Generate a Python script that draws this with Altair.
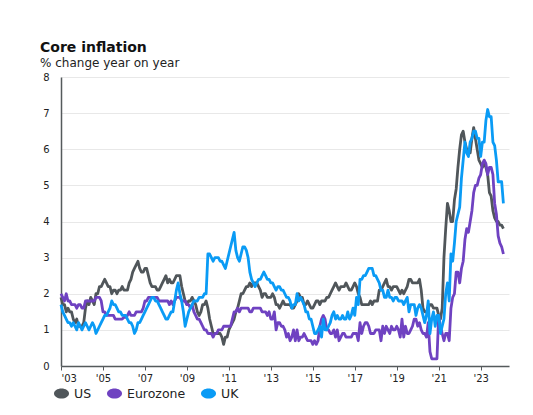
import altair as alt
import pandas as pd

# ---- data (monthly, Jan 2003 - Feb 2024), % change year on year ----
us = [
    1.9, 1.7, 1.7, 1.5, 1.6, 1.5, 1.5, 1.3, 1.2, 1.3, 1.1, 1.1,
    1.1, 1.2, 1.6, 1.8, 1.7, 1.9, 1.8, 1.7, 2.0, 2.0, 2.2, 2.2,
    2.3, 2.4, 2.3, 2.2, 2.2, 2.0, 2.1, 2.1, 2.0, 2.1, 2.1, 2.2,
    2.1, 2.1, 2.1, 2.3, 2.4, 2.6, 2.7, 2.8, 2.9, 2.7, 2.6, 2.6,
    2.7, 2.7, 2.5, 2.3, 2.2, 2.2, 2.2, 2.1, 2.1, 2.2, 2.3, 2.4,
    2.5, 2.3, 2.4, 2.3, 2.3, 2.4, 2.5, 2.5, 2.5, 2.2, 2.0, 1.8,
    1.7, 1.8, 1.8, 1.9, 1.8, 1.7, 1.5, 1.4, 1.5, 1.7, 1.7, 1.8,
    1.6, 1.3, 1.1, 0.9, 0.9, 0.9, 0.9, 0.9, 0.8, 0.6, 0.8, 0.8,
    1.0, 1.1, 1.2, 1.3, 1.5, 1.6, 1.8, 2.0, 2.0, 2.1, 2.2, 2.2,
    2.3, 2.2, 2.3, 2.3, 2.3, 2.2, 2.1, 1.9, 2.0, 2.0, 1.9, 1.9,
    1.9, 2.0, 1.9, 1.7, 1.7, 1.6, 1.7, 1.8, 1.7, 1.7, 1.7, 1.7,
    1.6, 1.6, 1.7, 1.8, 2.0, 1.9, 1.9, 1.7, 1.7, 1.8, 1.7, 1.6,
    1.6, 1.7, 1.8, 1.8, 1.7, 1.8, 1.8, 1.8, 1.9, 1.9, 2.0, 2.1,
    2.2, 2.3, 2.2, 2.1, 2.2, 2.2, 2.2, 2.3, 2.2, 2.1, 2.1, 2.2,
    2.3, 2.2, 2.0, 1.9, 1.7, 1.7, 1.7, 1.7, 1.7, 1.8, 1.7, 1.8,
    1.8, 1.8, 2.1, 2.1, 2.2, 2.3, 2.4, 2.2, 2.2, 2.1, 2.2, 2.2,
    2.2, 2.1, 2.0, 2.1, 2.0, 2.1, 2.2, 2.4, 2.4, 2.3, 2.3, 2.3,
    2.3, 2.4, 2.1, 1.6, 1.5, 1.5, 1.6, 1.7, 1.7, 1.6, 1.6, 1.6,
    1.4, 1.3, 1.6, 3.0, 3.8, 4.5, 4.3, 4.0, 4.0, 4.6, 4.9, 5.5,
    6.0, 6.4, 6.5, 6.2, 6.0, 5.9, 5.9, 6.3, 6.6, 6.3, 6.0, 5.7,
    5.6, 5.5, 5.6, 5.5, 5.3, 4.8, 4.7, 4.3, 4.1, 4.0, 4.0, 3.9,
    3.9, 3.8,
]

eurozone = [
    2.0, 1.9, 1.8, 2.0, 1.8, 1.8, 1.7, 1.7, 1.7, 1.6, 1.7, 1.7,
    1.6, 1.6, 1.8, 1.8, 1.8, 1.8, 1.8, 1.8, 1.9, 1.9, 1.9, 1.8,
    1.5, 1.5, 1.4, 1.4, 1.4, 1.4, 1.4, 1.3, 1.3, 1.3, 1.3, 1.3,
    1.35, 1.35, 1.4, 1.5, 1.4, 1.4, 1.4, 1.5, 1.5, 1.5, 1.5, 1.6,
    1.8, 1.8, 1.9, 1.9, 1.9, 1.9, 1.9, 1.9, 1.8, 1.8, 1.8, 1.8,
    1.8, 1.8, 1.7, 1.8, 1.7, 1.8, 1.9, 1.9, 1.9, 1.8, 1.8, 1.8,
    1.7, 1.7, 1.6, 1.7, 1.5, 1.4, 1.3, 1.3, 1.2, 1.1, 1.0, 1.0,
    0.9, 0.9, 0.9, 0.8, 0.9, 0.9, 1.0, 1.0, 1.0, 1.1, 1.1, 1.1,
    1.1, 1.1, 1.3, 1.5, 1.5, 1.6, 1.5, 1.6, 1.6, 1.6, 1.6, 1.6,
    1.5, 1.5, 1.6, 1.6, 1.6, 1.6, 1.6, 1.5, 1.5, 1.5, 1.4, 1.5,
    1.3, 1.3, 1.5, 1.0, 1.2, 1.2, 1.1, 1.1, 1.0, 0.8, 0.9, 0.7,
    0.8, 1.0, 0.7, 1.0, 0.7, 0.8, 0.8, 0.9, 0.8, 0.7, 0.7, 0.7,
    0.6, 0.7, 0.6, 0.7, 1.1, 1.3, 1.4, 1.3, 1.0, 1.0, 0.9, 0.9,
    1.0, 0.8, 1.0, 0.7, 0.8, 0.9, 0.9, 0.8, 0.8, 0.8, 0.8, 0.9,
    0.9, 0.9, 0.7, 1.2, 0.9, 1.1, 1.2, 1.2, 1.1, 0.9, 0.9, 0.9,
    1.0, 1.0, 1.0, 0.7, 1.1, 0.9, 1.1, 1.0, 0.9, 1.1, 1.0, 1.0,
    1.1, 1.0, 0.8, 1.3, 0.8, 1.1, 0.9, 0.9, 1.0, 1.1, 1.3, 1.3,
    1.1, 1.2, 1.0, 0.9, 0.9, 0.8, 1.2, 0.4, 0.2, 0.2, 0.2, 0.2,
    1.4, 1.1, 0.9, 0.7, 0.9, 0.9, 0.7, 1.6, 1.9, 2.0, 2.6, 2.6,
    2.3, 2.7, 2.9, 3.5, 3.8, 3.7, 4.0, 4.3, 4.8, 5.0, 5.0, 5.2,
    5.3, 5.6, 5.7, 5.6, 5.3, 5.5, 5.5, 5.3, 4.5, 4.2, 3.6, 3.4,
    3.3, 3.1,
]

uk = [
    1.7, 1.5, 1.4, 1.3, 1.2, 1.2, 1.1, 1.2, 1.1, 1.0, 1.2, 1.1,
    1.0, 1.1, 1.2, 1.1, 1.0, 1.1, 1.2, 1.1, 0.9, 1.0, 1.1, 1.2,
    1.3, 1.4, 1.4, 1.5, 1.6, 1.8, 1.7, 1.7, 1.6, 1.5, 1.5, 1.4,
    1.4, 1.4, 1.3, 1.2, 1.2, 1.1, 0.9, 1.0, 1.2, 1.2, 1.3, 1.4,
    1.5, 1.6, 1.7, 1.8, 1.9, 1.9, 1.8, 1.8, 1.7, 1.6, 1.5, 1.4,
    1.3, 1.3, 1.4, 1.5, 1.5, 1.8, 2.1, 2.3, 2.0, 1.8, 1.5, 1.1,
    1.3, 1.5, 1.6, 1.7, 1.8, 1.8, 1.8, 1.9, 1.9, 1.9, 2.0, 2.0,
    3.1, 3.1, 3.0, 2.9, 3.0, 3.0, 3.0, 2.9, 2.9, 2.8, 2.7, 2.9,
    3.1, 3.3, 3.5, 3.7, 3.2, 3.0, 2.9, 3.1, 3.3, 3.3, 3.2, 3.0,
    2.6, 2.4, 2.3, 2.2, 2.3, 2.4, 2.4, 2.5, 2.6, 2.5, 2.4, 2.4,
    2.3, 2.3, 2.2, 2.1, 2.2, 2.2, 2.1, 2.1, 2.0, 1.9, 1.9, 1.8,
    1.6, 1.7, 1.7, 2.0, 1.8, 1.9, 1.8, 1.7, 1.5, 1.5, 1.3, 1.3,
    1.1, 0.9, 0.9, 1.0, 1.1, 0.8, 1.3, 1.0, 1.0, 1.1, 1.2, 1.4,
    1.5, 1.3, 1.4, 1.3, 1.3, 1.4, 1.3, 1.3, 1.5, 1.3, 1.4, 1.6,
    1.4, 1.9, 1.7, 2.4, 2.4, 2.5, 2.5, 2.6, 2.7, 2.7, 2.7, 2.5,
    2.5, 2.4, 2.3, 2.1, 2.1, 1.9, 1.9, 2.1, 1.9, 1.9, 1.8, 1.9,
    1.9, 1.8, 1.8, 1.8, 1.7, 1.8, 1.9, 1.5, 1.7, 1.7, 1.7, 1.4,
    1.6, 1.7, 1.6, 1.4, 1.2, 1.4, 1.8, 0.9, 1.3, 1.5, 1.1, 1.4,
    1.4, 0.9, 1.1, 1.3, 2.0, 2.3, 1.8, 3.1, 2.9, 3.4, 4.0, 4.2,
    4.4, 5.2, 5.7, 6.2, 5.9, 5.8, 6.2, 6.3, 6.5, 6.5, 6.3, 6.3,
    5.8, 6.2, 6.2, 6.8, 7.1, 6.9, 6.9, 6.2, 6.1, 5.7, 5.1, 5.1,
    5.1, 4.5,
]

series_names = ["US", "Eurozone", "UK"]
series_colors = ["#50565a", "#6f42c1", "#0a9bf5"]
start_year = 2003
x_ticks = list(range(2003, 2024, 2))
y_ticks = list(range(0, 9))

rows = []
for name, vals in zip(series_names, [us, eurozone, uk]):
    for i, v in enumerate(vals):
        rows.append({"t": start_year + i / 12, "value": v, "series": name})
df = pd.DataFrame(rows)

FONT = "DejaVu Sans"
ellipse = "M-1,0A1,0.68,0,1,1,1,0A1,0.68,0,1,1,-1,0Z"

color_scale = alt.Scale(domain=series_names, range=series_colors)

x_enc = alt.X(
    "t:Q",
    scale=alt.Scale(domain=[2003, 2024.35], nice=False, zero=False),
    axis=alt.Axis(
        values=x_ticks,
        labelExpr="\"'\" + substring(toString(datum.value), 2, 4)",
        grid=False, title=None,
        domainColor="#555a5c", domainWidth=1.5,
        tickColor="#555a5c", tickSize=4, labelPadding=3,
        labelFont=FONT, labelFontSize=10, labelColor="#222222",
    ),
)
y_enc = alt.Y(
    "value:Q",
    scale=alt.Scale(domain=[0, 8], nice=False),
    axis=alt.Axis(
        values=y_ticks, title=None, ticks=False, labelPadding=12,
        gridColor="#e8e8e8", gridWidth=1,
        domainColor="#555a5c", domainWidth=1.5,
        labelFont=FONT, labelFontSize=10, labelColor="#222222",
    ),
)

lines = alt.Chart(df).mark_line(strokeWidth=2.8, strokeJoin="round").encode(
    x=x_enc,
    y=y_enc,
    color=alt.Color("series:N", scale=color_scale, legend=None),
    detail="series:N",
)

legend_pts = alt.Chart(df).mark_point(filled=True, opacity=0, size=1).encode(
    x=x_enc,
    y=y_enc,
    color=alt.Color(
        "series:N", scale=color_scale,
        legend=alt.Legend(
            orient="none", legendX=-7, legendY=309, direction="horizontal",
            title=None, symbolType=ellipse, symbolSize=225, symbolOpacity=1,
            symbolStrokeWidth=0, labelFont=FONT, labelFontSize=12.5,
            labelColor="#222222", columnPadding=15, labelOffset=5,
        ),
    ),
)

chart = (
    alt.layer(lines, legend_pts)
    .resolve_legend(color="independent")
    .properties(
        width=448,
        height=289,
        autosize=alt.AutoSizeParams(type="none"),
        padding={"left": 53, "top": 69, "right": 15, "bottom": 40},
        title=alt.TitleParams(
            text="Core inflation",
            subtitle="% change year on year",
            anchor="start", frame="group", dx=-21, offset=3,
            font=FONT, fontSize=14, fontWeight="bold", color="#111111",
            subtitleFont=FONT, subtitleFontSize=12, subtitleColor="#222222",
            subtitlePadding=3,
        ),
    )
    .configure(background="white")
    .configure_view(strokeWidth=0, stroke="transparent")
    .configure_axisX(grid=False)
)

chart.save("out.html", embed_options={"renderer": "svg", "actions": False})
